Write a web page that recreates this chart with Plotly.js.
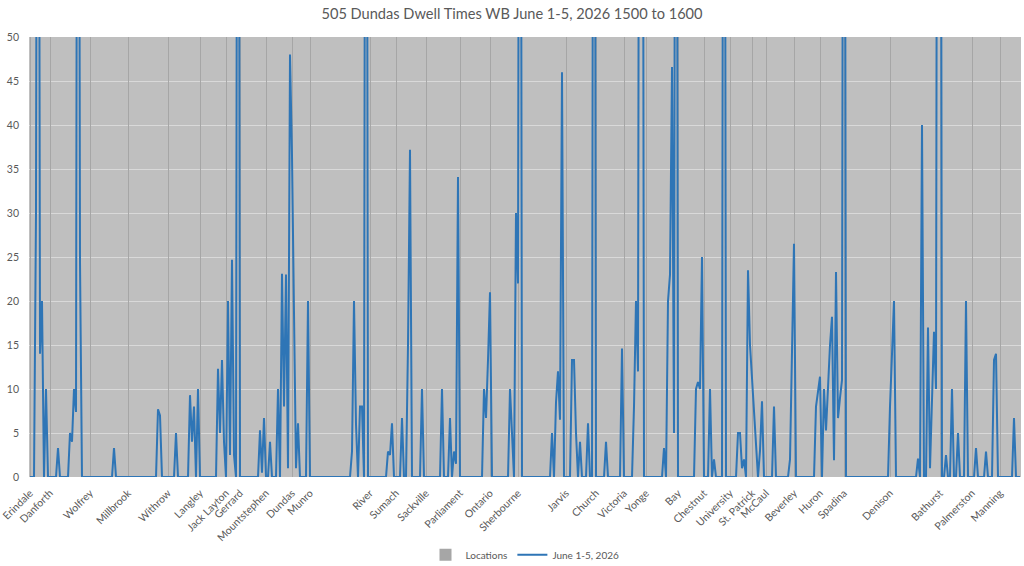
<!DOCTYPE html>
<html>
<head>
<meta charset="utf-8">
<script src="https://cdn.plot.ly/plotly-3.0.1.min.js"></script>
<style>html,body{margin:0;padding:0;background:#fff;}#chart{width:1024px;height:566px;}</style>
</head>
<body>
<div id="chart"></div>
<script>
// Stop locations: position (sample index along the route) and name
const locIdx = [0,10,30,49,69,85,98,105,118,131,140,170,183,198,215,230,244,268,283,297,308,324,337,350,361,368,382,395,407,430,455,471,485];
const locNames = ["Erindale","Danforth","Wolfrey","Millbrook","Withrow","Langley","Jack Layton","Gerrard","Mountstephen","Dundas","Munro","River","Sumach","Sackville","Parliament","Ontario","Sherbourne","Jarvis","Church","Victoria","Yonge","Bay","Chestnut","University","St. Patrick","McCaul","Beverley","Huron","Spadina","Denison","Bathurst","Palmerston","Manning"];
const locValues = [50,50,50,50,50,50,50,50,50,50,50,50,50,50,50,50,50,50,50,50,50,50,50,50,50,50,50,50,50,50,50,50,50];

// Dwell times (seconds) per sample along the route, June 1-5, 2026
const dwell = [
0,0,0,30,150,14,20,0,10,0,
0,0,0,0,3.3,0,0,0,0,0,
5,4,10,7.4,150,24.4,0,0,0,0,
0,0,0,0,0,0,0,0,0,0,
0,0,3.3,0,0,0,0,0,0,0,
0,0,0,0,0,0,0,0,0,0,
0,0,0,0,7.7,7.0,0,0,0,0,
0,0,0,5,0,0,0,0,0,0,
9.3,4,8,0,10,0,0,0,0,0,
0,0,0,0,12.3,5,13.3,4,0,20,
2.5,24.7,2.5,0,150,0,0,0,0,0,
0,0,0,0,0,5.3,0.5,6.7,0,0,
4,0,0,0,10,0,23.1,8,23,1,
48,36.5,18.7,1,6.1,0,0,0,0,20,
0,0,0,0,0,0,0,0,0,0,
0,0,0,0,0,0,0,0,0,0,
0,2.9,20,6,0,8,8,0,150,0,
0,0,0,0,0,0,0,0,0,2.9,
2.5,6.1,0,0,0,0,6.7,0,0,15,
37.2,0,0,0,0,0,10,0,0,0,
0,0,0,0,0,0,10,0,0,0,
6.7,0,2.9,1.5,34.1,0,0,0,0,0,
0,0,0,0,0,0,0,10,6.7,13.3,
21,0,0,0,0,0,0,0,0,0,
10,5,0,30,22,150,0,0,0,0,
0,0,0,0,0,0,0,0,0,0,
0,5,0,8.5,12,6.5,46,0,0,0,
0,13.3,13.3,5,0,4,0,0,0,6.1,
0,0,150,0,0,0,0,0,4,0,
0,0,0,0,0,0,14.6,0,0,0,
0,0,8,20,12,150,150,0,0,0,
0,0,0,0,0,0,0,3.3,0,20,
23,46.6,5,150,0,0,0,0,0,0,
0,0,0,10,10.8,10,25,0,0,0,
10,0,2,0,0,0,0,150,0,0,
0,0,0,0,5,5,1,2,0,23.5,
15,11,7,3,0,3,8.6,0,0,0,
0,0,8,0,0,0,0,0,0,0,
2,13,26.5,0,0,0,0,0,0,0,
0,0,0,8,9.5,11.4,0,10,5.3,11,
15,18.2,1.9,23.3,6.7,9,11,150,0,0,
0,0,0,0,0,0,0,0,0,0,
0,0,0,0,0,0,0,0,0,0,
8,14,20,0,0,0,0,0,0,0,
0,0,0,0,2.1,0,40,0,0,17,
1,10,16.5,10,150,150,0,0,2.5,0,
0,10,0,0,5,0,0,0,20,0,
0,0,0,3.3,0,0,0,0,2.9,0,
0,0,13.3,14,0,0,0,0,0,0,
0,0,6.7,0,0,0
];

const yTicks = [0,5,10,15,20,25,30,35,40,45,50];
const titleText = "505 Dundas Dwell Times WB June 1-5, 2026 1500 to 1600";
const seriesNames = ["Locations","June 1-5, 2026"];

const FONT = "Lato, 'Open Sans', sans-serif";
const GREY = "#595959";

const traces = [
  {
    type: "bar",
    name: seriesNames[0],
    x: locIdx,
    y: locValues,
    width: 0.5,
    marker: {color: "#a6a6a6", line: {width: 0}},
    hoverinfo: "skip"
  },
  {
    type: "scatter",
    mode: "lines",
    name: seriesNames[1],
    y: dwell,
    line: {color: "#2e75b6", width: 2},
    cliponaxis: true,
    hoverinfo: "skip"
  }
];

const n = dwell.length;
const layout = {
  width: 1024,
  height: 566,
  margin: {l: 29, r: 3, t: 37, b: 89, autoexpand: false},
  paper_bgcolor: "#ffffff",
  plot_bgcolor: "#bfbfbf",
  font: {family: FONT, color: GREY, size: 10},
  title: {
    text: titleText,
    x: 0.5, xanchor: "center",
    y: 0.975, yanchor: "middle",
    font: {family: FONT, size: 14.6, color: GREY}
  },
  showlegend: true,
  legend: {
    orientation: "h",
    x: 0.5, xanchor: "center",
    yref: "container",
    y: 0.02, yanchor: "middle",
    font: {family: FONT, size: 10, color: GREY},
    itemwidth: 30,
    bgcolor: "rgba(0,0,0,0)"
  },
  bargap: 0,
  xaxis: {
    range: [-0.5, n - 0.5],
    tickmode: "array",
    tickvals: locIdx,
    ticktext: locNames,
    tickangle: -45,
    tickfont: {family: FONT, size: 10.5, color: GREY},
    ticklabelstandoff: 7,
    automargin: false,
    showgrid: false,
    zeroline: false,
    showline: false,
    ticks: "",
    fixedrange: true
  },
  yaxis: {
    range: [0, 50],
    tickmode: "array",
    tickvals: yTicks,
    tickfont: {family: FONT, size: 10.5, color: GREY},
    ticklabelstandoff: 9,
    automargin: false,
    showgrid: true,
    gridcolor: "#d9d9d9",
    gridwidth: 1,
    zeroline: false,
    showline: false,
    ticks: "",
    fixedrange: true
  }
};

Plotly.newPlot("chart", traces, layout, {staticPlot: true, displayModeBar: false});
</script>
</body>
</html>
